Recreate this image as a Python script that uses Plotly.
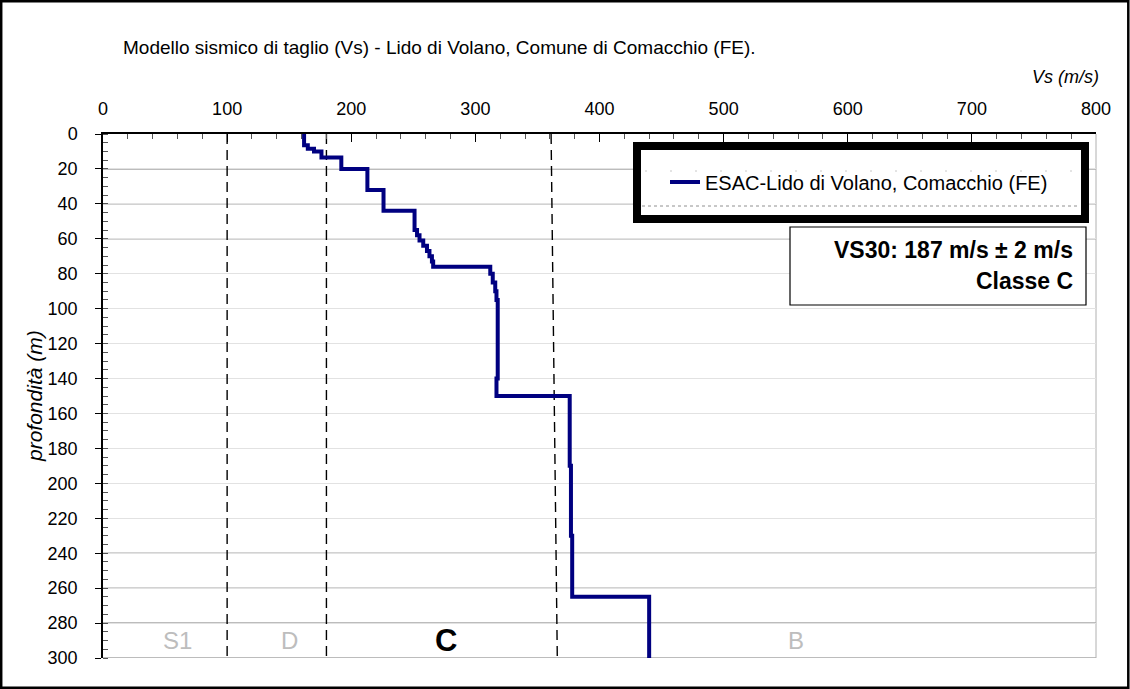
import plotly.graph_objects as go

# ---------------- data ----------------
layer_top_depth = [0, 6.5, 8.5, 10, 13.5, 20, 32, 44, 55, 58, 61, 64, 67, 70, 73, 76, 80, 85, 90, 95, 140, 150, 190, 230, 265]
layer_vs = [162, 165, 170, 176, 192, 213, 226, 251, 253, 255, 258, 261, 263, 265, 266, 312, 314, 316, 317, 318, 317, 376, 377, 378, 440]
max_depth = 300

# class boundaries (dashed lines): x values at top and bottom depth
boundary_S1_D = [100, 100]
boundary_D_C = [180, 180]
boundary_C_B = [361, 366]
boundary_depth = [0, 300]

zone_names = ["S1", "D", "C", "B"]
series_name = "ESAC-Lido di Volano, Comacchio (FE)"
title_text = "Modello sismico di taglio (Vs) - Lido di Volano, Comune di Comacchio (FE)."
vs30_text = "VS30: 187 m/s ± 2 m/s"
class_text = "Classe C"
x_ticks = [0, 100, 200, 300, 400, 500, 600, 700, 800]
y_ticks = list(range(0, 301, 20))
dark_grid = [20, 40, 60, 240, 260, 280, 300]

# build step profile from layers
xs, ys = [], []
bottoms = layer_top_depth[1:] + [max_depth]
for v, top, bot in zip(layer_vs, layer_top_depth, bottoms):
    xs += [v, v]
    ys += [top, bot]

W, H = 1130, 689
L, R, T, B = 103, 34, 134, 31
PW, PH = W - L - R, H - T - B

def px(p):
    return (p - L) / PW

def py(p):
    return (H - B - p) / PH

FONT = "Liberation Sans, Arial, sans-serif"

fig = go.Figure()

for bx in (boundary_S1_D, boundary_D_C, boundary_C_B):
    fig.add_trace(go.Scatter(x=bx, y=boundary_depth, mode="lines",
                             line=dict(color="black", width=1.4, dash="10px,6px"),
                             showlegend=False, hoverinfo="skip"))

fig.add_trace(go.Scatter(x=xs, y=ys, mode="lines", name=series_name,
                         line=dict(color="#000080", width=4)))

shapes = []
for g in dark_grid:
    shapes.append(dict(type="line", xref="paper", yref="y", x0=0, x1=1, y0=g, y1=g,
                       line=dict(color="#a6a6a6", width=1.5), layer="below"))
shapes.append(dict(type="line", xref="paper", yref="paper", x0=1, x1=1, y0=0, y1=1,
                   line=dict(color="#b0b0b0", width=1), layer="below"))
shapes.append(dict(type="rect", xref="paper", yref="paper",
                   x0=px(1.2), x1=px(1128.3), y0=py(1.2), y1=py(687.8),
                   line=dict(color="black", width=2.5), layer="above"))
shapes.append(dict(type="rect", xref="paper", yref="paper",
                   x0=px(637), x1=px(1085), y0=py(146), y1=py(219),
                   line=dict(color="black", width=8), fillcolor="white", layer="above"))
shapes.append(dict(type="line", xref="paper", yref="paper",
                   x0=px(642), x1=px(1080), y0=py(206), y1=py(206),
                   line=dict(color="#909090", width=1, dash="dot"), layer="above"))
shapes.append(dict(type="line", xref="paper", yref="paper",
                   x0=px(645), x1=px(1080), y0=py(171), y1=py(171),
                   line=dict(color="#c8c8c8", width=1, dash="2px,23px"), layer="above"))
shapes.append(dict(type="rect", xref="paper", yref="paper",
                   x0=px(790), x1=px(1086), y0=py(227), y1=py(305),
                   line=dict(color="black", width=1.2), fillcolor="white", layer="above"))

annotations = [
    dict(text=title_text, xref="paper", yref="paper", x=px(121), y=py(47),
         xanchor="left", yanchor="middle", showarrow=False,
         font=dict(family=FONT, size=19, color="black")),
    dict(text="<i>Vs (m/s)</i>", xref="paper", yref="paper", x=px(1101), y=py(77),
         xanchor="right", yanchor="middle", showarrow=False,
         font=dict(family=FONT, size=18, color="black")),
    dict(text="<i>profondità (m)</i>", xref="paper", yref="paper", x=px(34), y=0.5,
         xanchor="center", yanchor="middle", textangle=-90, showarrow=False,
         font=dict(family=FONT, size=21, color="black")),
    dict(text="<b>" + vs30_text + "</b>", xref="paper", yref="paper", x=px(1075), y=py(250),
         xanchor="right", yanchor="middle", showarrow=False,
         font=dict(family=FONT, size=23, color="black")),
    dict(text="<b>" + class_text + "</b>", xref="paper", yref="paper", x=px(1075), y=py(281),
         xanchor="right", yanchor="middle", showarrow=False,
         font=dict(family=FONT, size=23, color="black")),
]
zone_x = [60, 150, 276, 558]
for name, zx in zip(zone_names, zone_x):
    bold = name == "C"
    annotations.append(dict(
        text=("<b>%s</b>" % name) if bold else name, x=zx, y=290, xref="x", yref="y",
        showarrow=False, xanchor="center", yanchor="middle",
        font=dict(family=FONT, size=31 if bold else 24, color="black" if bold else "#bdbdbd")))

fig.update_layout(
    width=W, height=H,
    margin=dict(l=L, r=R, t=T, b=B, autoexpand=False),
    paper_bgcolor="white", plot_bgcolor="white",
    font=dict(family=FONT, size=18, color="black"),
    showlegend=True,
    legend=dict(x=px(665), y=py(182), xanchor="left", yanchor="middle",
                bgcolor="rgba(0,0,0,0)", borderwidth=0,
                font=dict(family=FONT, size=20, color="black")),
    shapes=shapes, annotations=annotations,
    xaxis=dict(side="top", range=[0, 800], tickvals=x_ticks, showgrid=False, zeroline=False,
               showline=True, linecolor="black", linewidth=2,
               ticks="inside", ticklen=8, tickcolor="black", tickwidth=1.3,
               ticklabelstandoff=10,
               minor=dict(dtick=20, ticks="inside", ticklen=5, tickcolor="#555", tickwidth=1),
               tickfont=dict(family=FONT, size=18)),
    yaxis=dict(range=[300, 0], tickvals=y_ticks, showgrid=True, gridcolor="#e2e2e2", gridwidth=1,
               zeroline=False, showline=True, linecolor="black", linewidth=1.5,
               ticks="outside", ticklen=6, tickcolor="black", tickwidth=1.3,
               ticklabelstandoff=14,
               minor=dict(dtick=5, ticks="inside", ticklen=5, tickcolor="#555", tickwidth=1, showgrid=False),
               tickfont=dict(family=FONT, size=18)),
)

fig.write_html("out.html", config={"displayModeBar": False},
               post_script="document.body.style.margin='0';document.body.style.overflow='hidden';")
